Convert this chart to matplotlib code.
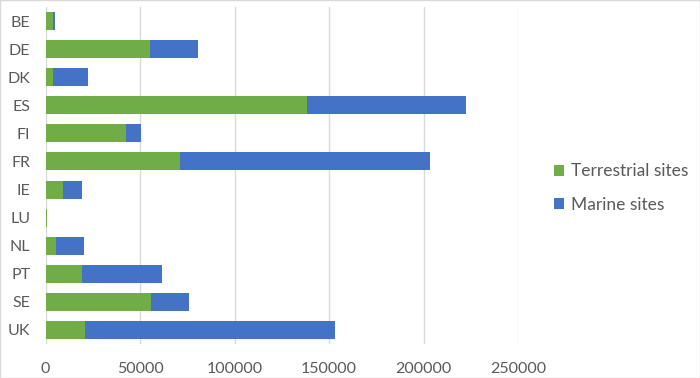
import matplotlib
matplotlib.use("Agg")
import matplotlib.pyplot as plt
from matplotlib.patches import Rectangle

plt.rcParams['font.family'] = ['Lato', 'DejaVu Sans']

countries = ["BE", "DE", "DK", "ES", "FI", "FR", "IE", "LU", "NL", "PT", "SE", "UK"]
terrestrial = [4100, 55200, 3800, 138200, 42400, 71100, 9250, 600, 5400, 19100, 55600, 21000]
marine = [1100, 25600, 18700, 84200, 8200, 132300, 10000, 50, 15100, 42300, 20200, 132000]
xticks = [0, 50000, 100000, 150000, 200000, 250000]

green = "#70AD47"
blue = "#4472C4"
txt = "#595959"

fig = plt.figure(figsize=(7, 3.78), dpi=100)
ax = fig.add_axes([45.5/700, 1 - 344/378, (518.3-45.5)/700, (344-7)/378])

y = list(range(len(countries)))
ax.barh(y, terrestrial, height=0.64, color=green, label="Terrestrial sites", zorder=3)
ax.barh(y, marine, left=terrestrial, height=0.64, color=blue, label="Marine sites", zorder=3)

ax.set_xlim(0, 250000)
ax.set_ylim(len(countries) - 0.5, -0.5)
ax.set_xticks(xticks)
ax.set_xticklabels([str(v) for v in xticks])
ax.set_yticks(y)
ax.set_yticklabels(countries)
ax.tick_params(axis='both', length=0, labelsize=11.5, colors=txt)
ax.tick_params(axis='x', pad=13)
ax.tick_params(axis='y', pad=11)
ax.grid(axis='x', color="#d9d9d9", linewidth=1, zorder=0)
for s in ax.spines.values():
    s.set_visible(False)

handles, labels = ax.get_legend_handles_labels()
leg = fig.legend(handles, labels, loc='center left', bbox_to_anchor=(538/700, 1 - 188/378),
                 frameon=False, fontsize=12.5, labelcolor=txt, handlelength=0.6, handleheight=0.6,
                 handletextpad=0.4, labelspacing=1.0)

fig.patches.append(Rectangle((0, 0), 1, 1, transform=fig.transFigure, fill=False,
                             edgecolor="#d9d9d9", linewidth=1))
fig.savefig("out.png", dpi=100)
